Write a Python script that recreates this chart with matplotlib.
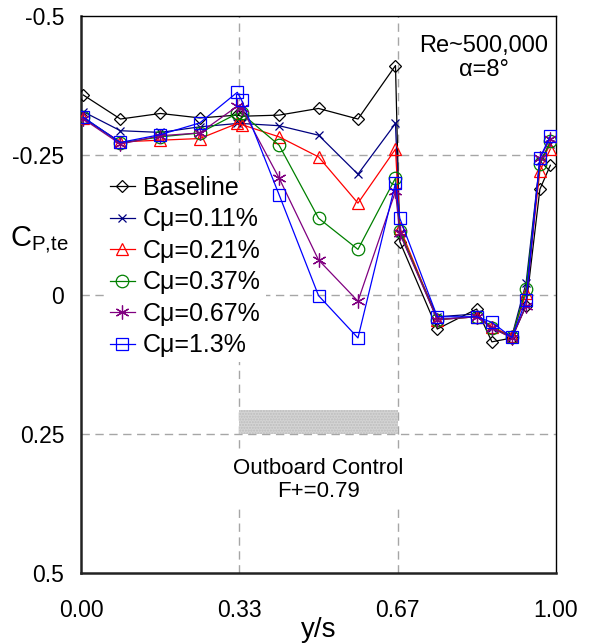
import matplotlib
matplotlib.use('Agg')
import matplotlib.pyplot as plt
from matplotlib.patches import Rectangle

plt.rcParams['font.family'] = ['Liberation Sans', 'DejaVu Sans']
plt.rcParams['mathtext.default'] = 'regular'

# spanwise stations (y/s)
YS = [0.005, 0.083, 0.167, 0.25, 0.329, 0.338, 0.417, 0.5, 0.583,
      0.662, 0.671, 0.75, 0.833, 0.865, 0.907, 0.937, 0.966, 0.988]

baseline = [-0.358, -0.315, -0.325, -0.317, -0.322, -0.320, -0.322, -0.334,
            -0.315, -0.411, -0.095, 0.062, 0.026, 0.085, 0.078, 0.020,
            -0.189, -0.232]
cmu_011 = [-0.328, -0.294, -0.291, -0.301, -0.307, -0.307, -0.303, -0.286,
           -0.216, -0.307, -0.110, 0.040, 0.035, 0.060, 0.075, -0.021,
           -0.240, -0.270]
cmu_021 = [-0.316, -0.274, -0.277, -0.280, -0.307, -0.305, -0.283, -0.247,
           -0.164, -0.261, -0.120, 0.045, 0.040, 0.058, 0.075, -0.003,
           -0.222, -0.261]
cmu_037 = [-0.318, -0.272, -0.283, -0.290, -0.325, -0.325, -0.268, -0.137,
           -0.081, -0.209, -0.114, 0.045, 0.040, 0.060, 0.077, -0.010,
           -0.235, -0.275]
cmu_067 = [-0.315, -0.270, -0.285, -0.290, -0.338, -0.335, -0.209, -0.062,
           0.012, -0.185, -0.110, 0.045, 0.040, 0.060, 0.078, 0.020,
           -0.245, -0.280]
cmu_13 = [-0.318, -0.273, -0.287, -0.308, -0.363, -0.349, -0.179, 0.002,
          0.078, -0.200, -0.137, 0.040, 0.040, 0.050, 0.077, 0.010,
          -0.245, -0.285]

SERIES = [
    ('Baseline', baseline, 'black', 'D', 6),
    (u'C\u03bc=0.11%', cmu_011, '#000080', 'x', 6),
    (u'C\u03bc=0.21%', cmu_021, 'red', '^', 9),
    (u'C\u03bc=0.37%', cmu_037, 'green', 'o', 9),
    (u'C\u03bc=0.67%', cmu_067, 'purple', (6, 2, 0), 10),
    (u'C\u03bc=1.3%', cmu_13, 'blue', 's', 9),
]

XTICKS = [0.0, 1/3., 2/3., 1.0]
XLABELS = ['0.00', '0.33', '0.67', '1.00']
YTICKS = [-0.5, -0.25, 0, 0.25, 0.5]
YLABELS = ['-0.5', '-0.25', '0', '0.25', '0.5']


def main():
    fig = plt.figure(figsize=(5.94, 6.44), dpi=100)
    ax = fig.add_axes([0.1364, 0.1102, 0.7997, 0.8650])

    for (name, vals, col, mk, ms) in SERIES:
        ax.plot(YS, vals, '-', color=col, linewidth=0.9, marker=mk,
                markersize=ms, markerfacecolor='none', markeredgecolor=col,
                markeredgewidth=0.9, label=name, zorder=3)

    # control region bar
    ax.add_patch(Rectangle((1/3., 0.207), 1/3., 0.043, facecolor='#d4d4d4',
                           edgecolor='#bdbdbd', hatch='......', linewidth=0,
                           zorder=1))

    dash = dict(color='#a6a6a6', linewidth=1.0, linestyle=(0, (6, 4)), zorder=0)
    for yv in (-0.25, 0, 0.25):
        ax.axhline(yv, **dash)
    for xv in (1/3., 2/3.):
        ax.axvline(xv, **dash)

    ax.set_xlim(0, 1)
    ax.set_ylim(0.5, -0.5)
    ax.set_xticks(XTICKS)
    ax.set_xticklabels(XLABELS)
    ax.set_yticks(YTICKS)
    ax.set_yticklabels(YLABELS)
    ax.tick_params(length=0, labelsize=16.5, pad=12)
    ax.tick_params(axis='x', pad=19)
    for s in ('left', 'bottom'):
        ax.spines[s].set_linewidth(1.8)
        ax.spines[s].set_color('#222222')
    for s in ('top', 'right'):
        ax.spines[s].set_linewidth(1.0)

    ax.set_xlabel('y/s', fontsize=20, labelpad=-4)
    fig.text(0.017, 0.627, r'C$_{P{,}te}$', fontsize=21, va='center', ha='left')

    ax.text(0.848, 0.966, 'Re~500,000\n' + u'\u03b1=8\u00b0', fontsize=17,
            ha='center', va='top', transform=ax.transAxes, linespacing=1.1)
    ax.text(0.5, 0.167, 'Outboard Control\nF+=0.79', fontsize=16,
            ha='center', va='center', transform=ax.transAxes,
            linespacing=1.15, zorder=2,
            bbox=dict(facecolor='white', edgecolor='none', pad=3))

    leg = ax.legend(loc='upper left', bbox_to_anchor=(0.05, 0.722),
                    fontsize=18, handlelength=1.0, handletextpad=0.32,
                    labelspacing=0.3, borderpad=0.2, borderaxespad=0,
                    frameon=True, fancybox=False)
    leg.get_frame().set_edgecolor('none')
    leg.get_frame().set_facecolor('white')
    leg.get_frame().set_alpha(1)

    plt.savefig('out.png', dpi=100)
    plt.close('all')


if __name__ == '__main__':
    main()
